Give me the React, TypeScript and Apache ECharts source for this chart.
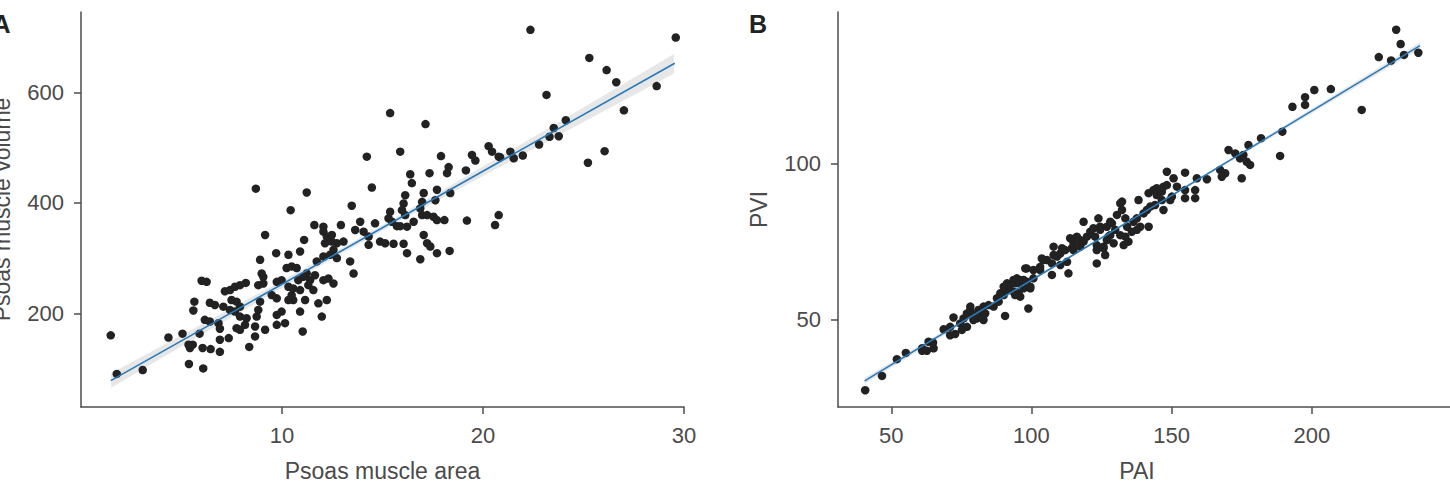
import React, { useEffect, useRef } from "react";
import * as echarts from "echarts";

// Panel A: Psoas muscle area (x) vs Psoas muscle volume (y)
const areaVolumePoints: number[][] = [
  [1.48,160],[1.78,90],[3.07,97],[4.35,156],[5.05,163],[5.35,143],[5.56,143],[5.42,137],[5.9,163],[5.64,221],
  [5.59,205],[6.0,259],[6.25,257],[5.37,108],[6.08,100],[6.05,137],[6.45,135],[6.91,130],[6.91,152],[7.35,155],
  [6.16,188],[6.41,185],[6.84,182],[6.91,172],[6.41,219],[6.66,215],[7.08,212],[7.16,240],[7.41,242],[7.66,248],
  [7.91,251],[8.2,255],[7.49,224],[7.74,221],[7.91,212],[7.66,203],[7.41,206],[7.91,194],[8.24,191],[8.16,179],
  [7.91,170],[7.74,173],[8.37,139],[8.66,176],[8.66,158],[8.91,297],[8.99,272],[9.07,266],[9.16,342],[8.82,251],
  [9.07,254],[8.91,221],[8.82,206],[8.74,194],[9.16,170],[9.71,309],[9.49,233],[9.74,227],[9.74,197],[9.98,203],
  [9.74,179],[10.15,182],[10.32,306],[9.74,257],[9.98,260],[10.23,282],[10.48,285],[10.73,282],[10.32,248],[10.56,245],
  [10.48,233],[10.32,224],[10.56,224],[10.9,312],[10.9,203],[11.03,167],[11.1,333],[10.81,260],[11.06,266],[11.23,272],
  [11.4,260],[11.64,269],[11.31,251],[10.9,242],[11.15,224],[11.56,242],[11.81,218],[11.98,194],[12.23,224],[11.73,294],
  [12.06,303],[12.39,306],[12.56,315],[12.14,327],[12.48,330],[12.73,327],[12.06,260],[12.31,263],[12.56,254],[12.73,300],
  [13.39,294],[13.56,272],[10.43,387],[11.61,360],[12.06,357],[12.93,360],[12.06,348],[12.23,339],[12.48,342],[13.06,330],
  [15.38,563],[17.14,543],[14.22,484],[15.88,493],[11.23,419],[14.47,428],[13.47,395],[16.38,452],[16.46,436],[17.34,454],
  [17.91,485],[18.29,465],[18.21,454],[19.15,459],[19.45,487],[19.62,477],[20.28,503],[20.45,493],[20.78,484],[16.13,414],
  [16.05,399],[15.97,387],[16.13,378],[17.05,418],[16.97,402],[16.88,390],[16.97,378],[17.22,378],[17.71,424],[17.63,405],
  [17.54,375],[17.71,369],[18.37,418],[18.08,369],[19.2,368],[20.6,360],[20.78,378],[15.38,384],[15.3,372],[15.47,366],
  [14.63,363],[14.88,330],[15.13,327],[15.55,326],[13.89,366],[13.64,351],[14.06,348],[14.31,339],[14.31,324],[15.72,358],
  [15.88,358],[16.22,357],[16.55,366],[16.05,326],[16.22,309],[17.05,342],[17.22,327],[17.38,321],[16.88,298],[17.71,309],
  [18.34,313],[22.36,714],[29.59,700],[25.29,663],[26.15,641],[26.63,619],[28.64,612],[27.01,568],[23.16,596],[24.12,550],
  [23.52,536],[23.77,521],[23.31,520],[22.79,506],[25.22,473],[26.05,494],[21.36,493],[21.53,481],[21.98,486],[20.85,483],
  [8.7,426]
];
const fitA: number[][] = [[1.48, 77.8], [29.54, 653.3]];
const bandAx = [1.5, 5, 10, 13, 16, 20, 25, 29.5];
const bandAlo = [65, 140, 246, 309, 370, 449, 547, 635];
const bandAhi = [91, 160, 259, 319, 381, 466, 573, 670];

// Panel B: PAI (x) vs PVI (y)
const paiPviPoints: number[][] = [
  [40.7,27.2],[46.7,31.8],[52.0,37.2],[55.2,39.2],[61.0,40.7],[63.3,42.8],[65.1,40.7],[62.7,39.9],[61.0,39.9],[64.9,42.5],
  [68.7,46.8],[71.0,47.6],[72.2,50.6],[71.0,44.9],[72.8,45.3],[74.6,48.7],[75.8,50.3],[77.0,51.9],[78.2,53.0],[79.3,51.4],
  [80.6,50.3],[82.3,51.1],[83.5,51.9],[82.9,49.8],[81.1,53.0],[79.3,49.8],[77.0,47.6],[75.2,46.6],[86.5,54.1],[88.3,55.7],
  [90.1,57.8],[91.3,59.4],[92.4,61.1],[94.2,61.6],[96.0,62.7],[98.3,66.4],[93.6,58.9],[96.0,57.3],[97.2,60.0],[99.6,60.0],
  [100.7,63.2],[90.6,51.1],[98.9,53.5],[103.1,65.9],[105.5,69.1],[107.9,70.7],[107.3,64.3],[110.3,67.5],[112.7,68.5],[113.2,64.8],
  [110.9,72.9],[115.0,72.3],[117.4,75.5],[78.2,54.1],[82.9,54.1],[84.7,54.6],[87.7,56.8],[88.9,58.4],[90.1,60.5],[91.3,61.6],
  [94.2,57.8],[95.4,58.4],[93.6,62.7],[94.8,63.2],[96.0,61.6],[97.2,62.7],[98.3,62.1],[99.6,60.5],[97.8,66.4],[100.7,65.9],
  [103.1,66.9],[104.3,69.1],[103.7,69.6],[107.9,73.4],[107.3,68.0],[109.1,70.2],[110.3,71.2],[112.0,72.3],[113.8,76.1],[115.0,74.5],
  [116.2,76.6],[114.4,72.9],[117.4,73.4],[118.6,75.0],[119.8,76.6],[121.0,78.2],[122.1,79.3],[118.6,81.4],[123.9,82.5],[124.5,79.8],
  [122.7,76.6],[123.3,73.9],[125.7,73.4],[126.9,75.5],[128.1,77.1],[128.7,80.9],[126.9,79.8],[129.9,78.8],[130.5,83.6],[131.7,87.3],
  [132.3,85.2],[133.5,82.5],[134.1,79.8],[133.5,76.6],[134.6,75.0],[135.8,78.2],[136.4,81.4],[137.6,82.5],[138.8,79.8],[140.0,84.1],
  [141.2,85.2],[142.4,86.3],[141.8,79.8],[138.2,88.4],[141.8,90.6],[143.5,91.6],[144.7,90.0],[145.9,91.6],[147.1,92.7],[148.3,93.2],
  [146.5,88.4],[144.1,86.8],[147.1,85.2],[149.5,88.4],[150.1,89.5],[151.9,92.7],[150.7,95.4],[148.3,97.5],[154.8,97.2],[154.8,91.6],
  [154.8,89.0],[158.4,91.6],[158.4,89.0],[159.0,95.4],[162.6,95.1],[167.3,98.1],[169.1,97.0],[167.9,95.9],[170.3,104.5],[172.7,103.4],
  [174.4,101.8],[175.6,102.9],[177.4,106.1],[175.0,95.4],[176.8,100.7],[178.0,99.7],[181.9,108.3],[189.5,110.4],[188.7,102.6],[193.1,118.4],
  [197.6,121.5],[197.6,119.0],[200.9,123.8],[206.8,124.1],[217.8,117.4],[223.9,134.4],[228.3,133.3],[230.1,143.2],[231.7,138.6],[232.9,135.1],
  [238.0,135.8],[132.3,87.9],[144.7,92.2],[146.5,91.1],[137.6,78.8],[128.1,81.4],[124.5,78.8],[123.3,68.0],[126.3,70.7],[125.7,72.9],
  [123.3,72.3],[129.3,74.5],[132.9,73.9],[127.5,76.6],[131.7,77.1]
];
const fitB: number[][] = [[40.5, 30.2], [238.6, 138.1]];
const bandBx = [40.5, 80, 125, 170, 238.6];
const bandBlo = [29.2, 51.2, 75.85, 100.2, 137.0];
const bandBhi = [31.2, 52.2, 76.55, 101.2, 139.2];

// Ticks
const ticksAx = [10, 20, 30];
const ticksAy = [200, 400, 600];
const ticksBx = [50, 100, 150, 200];
const ticksBy = [50, 100];

const FONT = "'Liberation Sans', Arial, Helvetica, sans-serif";
const AXIS_COLOR = "#4d4d4d";
const TEXT_COLOR = "#4a4a4a";
const POINT_COLOR = "#222222";
const LINE_COLOR = "#2a7ab9";
const BAND_COLOR = "#e4e4e4";

function axisCommon(ticks: number[]) {
  return {
    axisLine: { show: true, onZero: false, lineStyle: { color: AXIS_COLOR, width: 1.5 } },
    axisTick: { show: true, length: 7, lineStyle: { color: AXIS_COLOR, width: 1.5 }, customValues: ticks },
    axisLabel: { color: TEXT_COLOR, fontSize: 22, fontFamily: FONT, margin: 17, customValues: ticks },
    splitLine: { show: false },
    nameTextStyle: { color: TEXT_COLOR, fontSize: 23, fontFamily: FONT },
  };
}

function bandSeries(xi: number, yi: number, bx: number[], lo: number[], hi: number[]) {
  return {
    type: "custom",
    xAxisIndex: xi,
    yAxisIndex: yi,
    silent: true,
    z: 1,
    data: [[bx[0], lo[0]]],
    renderItem: (_params: any, api: any) => {
      const pts: number[][] = [];
      for (let i = 0; i < bx.length; i++) pts.push(api.coord([bx[i], hi[i]]));
      for (let i = bx.length - 1; i >= 0; i--) pts.push(api.coord([bx[i], lo[i]]));
      return { type: "polygon", shape: { points: pts }, style: { fill: BAND_COLOR, opacity: 0.9 } };
    },
  };
}

export default function App() {
  const ref = useRef<HTMLDivElement>(null);
  useEffect(() => {
    if (!ref.current) return;
    const chart = echarts.init(ref.current, null, { renderer: "svg" });
    chart.setOption({
      animation: false,
      backgroundColor: "#ffffff",
      textStyle: { fontFamily: FONT },
      grid: [
        { left: 81, top: 12, width: 603, height: 395, containLabel: false, outerBoundsMode: "none" },
        { left: 838, top: 12, width: 612, height: 395, containLabel: false, outerBoundsMode: "none" },
      ],
      xAxis: [
        {
          type: "value", gridIndex: 0, min: 0, max: 30,
          name: "Psoas muscle area", nameLocation: "middle", nameGap: 52,
          ...axisCommon(ticksAx),
        },
        {
          type: "value", gridIndex: 1, min: 31, max: 249.3,
          name: "PAI", nameLocation: "middle", nameGap: 52,
          ...axisCommon(ticksBx),
          nameTextStyle: { color: TEXT_COLOR, fontSize: 23, fontFamily: FONT, padding: [0, 14, 0, 0] },
        },
      ],
      yAxis: [
        {
          type: "value", gridIndex: 0, min: 30, max: 746.3,
          name: "Psoas muscle volume", nameLocation: "middle", nameGap: 68,
          ...axisCommon(ticksAy),
        },
        {
          type: "value", gridIndex: 1, min: 21.8, max: 148.9,
          name: "PVI", nameLocation: "middle", nameGap: 68,
          ...axisCommon(ticksBy),
        },
      ],
      graphic: [
        { type: "text", x: 10.5, y: 23.7, style: { text: "A", fontSize: 25, fontWeight: "bold", fontFamily: FONT, fill: "#222", align: "right", verticalAlign: "middle" } },
        { type: "text", x: 749, y: 23.7, style: { text: "B", fontSize: 25, fontWeight: "bold", fontFamily: FONT, fill: "#222", align: "left", verticalAlign: "middle" } },
      ],
      series: [
        bandSeries(0, 0, bandAx, bandAlo, bandAhi),
        bandSeries(1, 1, bandBx, bandBlo, bandBhi),
        {
          type: "scatter", xAxisIndex: 0, yAxisIndex: 0, data: areaVolumePoints,
          symbolSize: 8.5, itemStyle: { color: POINT_COLOR, opacity: 1 }, z: 2,
        },
        {
          type: "scatter", xAxisIndex: 1, yAxisIndex: 1, data: paiPviPoints,
          symbolSize: 8.5, itemStyle: { color: POINT_COLOR, opacity: 1 }, z: 2,
        },
        {
          type: "line", xAxisIndex: 0, yAxisIndex: 0, data: fitA, showSymbol: false, z: 3,
          lineStyle: { color: LINE_COLOR, width: 1.6 },
        },
        {
          type: "line", xAxisIndex: 1, yAxisIndex: 1, data: fitB, showSymbol: false, z: 3,
          lineStyle: { color: LINE_COLOR, width: 1.6 },
        },
      ],
    });
    return () => chart.dispose();
  }, []);
  return (
    <div
      ref={ref}
      style={{ position: "absolute", left: 0, top: 0, width: 1450, height: 483 }}
    />
  );
}
